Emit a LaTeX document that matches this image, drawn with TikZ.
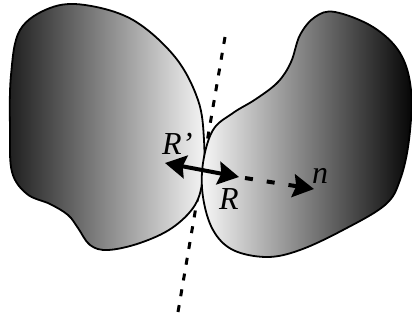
\documentclass[tikz,border=0pt]{standalone}
\usepackage{fontspec}
\setmainfont{Liberation Serif}
\usetikzlibrary{arrows.meta}
\tikzset{
  blob/.style={draw=black, line width=1.8pt},
  sep/.style={line width=3pt, dash pattern=on 7pt off 9pt},
  lab/.style={anchor=base west, inner sep=0pt, font=\fontsize{32}{32}\selectfont\itshape},
  bigtip/.tip={Stealth[length=21pt,width=23pt,inset=3pt]}
}
\begin{document}
\begin{tikzpicture}[x=1pt,y=-1pt]
\useasboundingbox (0,0) rectangle (412,320);
% separating dotted line
\coordinate (t) at (225,37);
\coordinate (b) at (178,312);
\draw[sep] (t) -- (b);
% left body
\shade[left color=black!88, right color=black!4, blob]
  plot[smooth cycle, tension=0.6] coordinates {
   (10,130) (11,75) (20,30) (50,8) (85,5) (133,20) (175,57) (198,100)
   (204,140) (203,177) (195,205) (172,228) (140,243) (108,250) (90,245)
   (78,228) (68,215) (50,204) (27,194) (12,172)};
% right body
\shade[left color=black!3, right color=black!98, blob]
  plot[smooth cycle, tension=0.6] coordinates {
   (203,163) (213,130) (233,113) (256,99) (278,82) (291,62) (300,35)
   (315,17) (335,12) (373,27) (400,53) (411,90) (409,140) (400,180)
   (385,205) (343,230) (300,250) (267,257) (233,250) (213,230) (203,197)};
% arrows
\coordinate (a1) at (165,163);
\coordinate (a2) at (239,177);
\coordinate (d1) at (245,178);
\coordinate (d2) at (314,189);
\draw[line width=4pt, {bigtip}-{bigtip}] (a1) -- (a2);
\draw[line width=4pt, dash pattern=on 8pt off 14pt, -{bigtip}] (d1) -- (d2);
% labels
\node[lab] (rp) at (162,155) {R’};
\node[lab] (r) at (219,210) {R};
\node[lab] (n) at (312,184) {n};
\end{tikzpicture}
\end{document}
